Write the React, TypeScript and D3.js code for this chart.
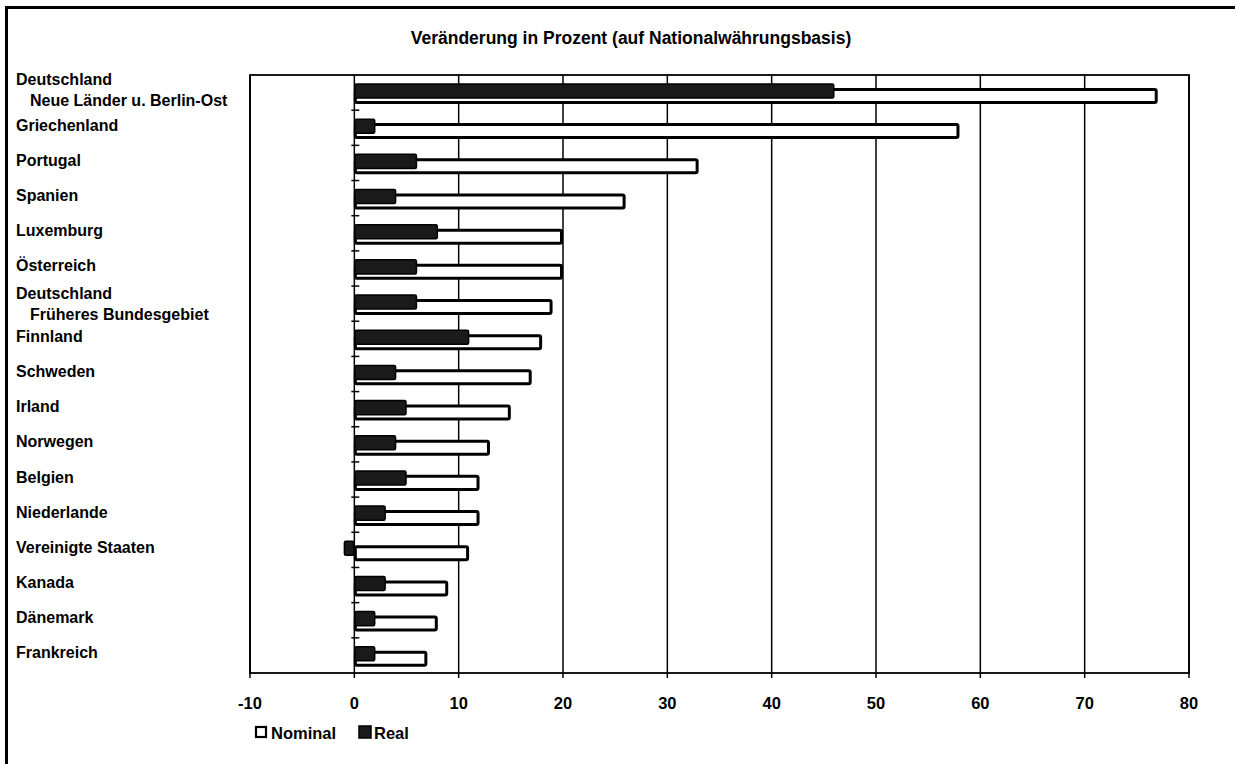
import React, { useEffect } from "react";
import * as d3 from "d3";

const categories: string[][] = [
  ["Deutschland", "Neue Länder u. Berlin-Ost"],
  ["Griechenland"],
  ["Portugal"],
  ["Spanien"],
  ["Luxemburg"],
  ["Österreich"],
  ["Deutschland", "Früheres Bundesgebiet"],
  ["Finnland"],
  ["Schweden"],
  ["Irland"],
  ["Norwegen"],
  ["Belgien"],
  ["Niederlande"],
  ["Vereinigte Staaten"],
  ["Kanada"],
  ["Dänemark"],
  ["Frankreich"],
];
const nominal: number[] = [77, 58, 33, 26, 20, 20, 19, 18, 17, 15, 13, 12, 12, 11, 9, 8, 7];
const real: number[] = [46, 2, 6, 4, 8, 6, 6, 11, 4, 5, 4, 5, 3, -1, 3, 2, 2];
const xTicks: number[] = [-10, 0, 10, 20, 30, 40, 50, 60, 70, 80];
const titleBold = "Veränderung in Prozent";
const titleRest = " (auf Nationalwährungsbasis)";
const legendLabels = ["Nominal", "Real"];

const W = 1237;
const H = 764;
const FONT = "'Liberation Sans', Arial, Helvetica, sans-serif";

export default function App() {
  useEffect(() => {
    document.body.style.margin = "0";
    document.body.style.overflow = "hidden";
    document.documentElement.style.overflow = "hidden";
  }, []);
  const left = 250, right = 1189, top = 75, bottom = 673;
  const x = d3.scaleLinear().domain([-10, 80]).range([left, right]);
  const idx = categories.map((_, i) => i);
  const y = d3.scaleBand<number>().domain(idx).range([top, bottom]).padding(0);
  const bw = y.bandwidth();
  const x0 = x(0);

  return (
    <div style={{ width: W, height: H, overflow: "hidden", background: "#fff" }}>
      <svg width={W} height={H} style={{ display: "block", fontFamily: FONT }}>
        <rect x={0} y={0} width={W} height={H} fill="#fff" />
        {/* outer frame (top and left edges; the rest runs off the page) */}
        <path d={`M6.5,${H}V7.5H${W - 2}`} fill="none" stroke="#000" strokeWidth={3} />

        {/* title */}
        <text x={631} y={44} textAnchor="middle" fontSize={17.5} fontWeight={700} fill="#000">
          <tspan>{titleBold}</tspan>
          <tspan>{titleRest}</tspan>
        </text>

        {/* gridlines */}
        {xTicks.map((t) => (
          <line key={"g" + t} x1={x(t)} x2={x(t)} y1={top} y2={bottom} stroke="#000" strokeWidth={1.5} />
        ))}
        {/* plot frame */}
        <rect x={left} y={top} width={right - left} height={bottom - top} fill="none" stroke="#000" strokeWidth={1.8} />
        {/* bottom axis ticks */}
        {xTicks.map((t) => (
          <line key={"t" + t} x1={x(t)} x2={x(t)} y1={bottom} y2={bottom + 5} stroke="#000" strokeWidth={1.5} />
        ))}
        {xTicks.map((t) => (
          <text key={"l" + t} x={x(t)} y={709} textAnchor="middle" fontSize={16.5} fontWeight={700} fill="#000">
            {t}
          </text>
        ))}

        {/* category axis ticks at zero */}
        {idx.slice(1).map((i) => (
          <line key={"ct" + i} x1={x0 - 3} x2={x0 + 5} y1={y(i)!} y2={y(i)!} stroke="#000" strokeWidth={1.5} />
        ))}

        {/* bars */}
        {idx.map((i) => {
          const b = y(i)!;
          const nx = Math.min(x(nominal[i]), x0);
          const nw = Math.abs(x(nominal[i]) - x0);
          const rx = Math.min(x(real[i]), x0);
          const rw = Math.abs(x(real[i]) - x0);
          return (
            <g key={"b" + i}>
              <rect x={nx + 1} y={b + bw * 0.41} width={Math.max(nw - 2.5, 0)} height={bw * 0.37} fill="#fff" stroke="#000" strokeWidth={3} rx={1.5} />
              <rect x={rx + 0.5} y={b + bw * 0.255} width={Math.max(rw - 1, 0)} height={bw * 0.4} fill="#1a1a1a" stroke="#000" strokeWidth={1.5} rx={1.5} />
            </g>
          );
        })}

        {/* category labels */}
        {categories.map((c, i) => {
          const cy = y(i)! + bw / 2;
          if (c.length === 2) {
            const y1 = i === 0 ? cy - 7.5 : cy - 4.5;
            return (
              <g key={"c" + i}>
                <text x={16} y={y1} fontSize={16} fontWeight={700} fill="#000">{c[0]}</text>
                <text x={30} y={y1 + 21} fontSize={16} fontWeight={700} fill="#000">{c[1]}</text>
              </g>
            );
          }
          return (
            <text key={"c" + i} x={16} y={cy + 3} fontSize={16} fontWeight={700} fill="#000">
              {c[0]}
            </text>
          );
        })}

        {/* legend */}
        <rect x={256} y={727} width={10} height={10} fill="#fff" stroke="#000" strokeWidth={2.2} />
        <text x={271} y={739} fontSize={16.5} fontWeight={700} fill="#000">{legendLabels[0]}</text>
        <rect x={359} y={726} width={12} height={12} fill="#1a1a1a" stroke="#000" strokeWidth={1.5} />
        <text x={374} y={739} fontSize={16.5} fontWeight={700} fill="#000">{legendLabels[1]}</text>
      </svg>
    </div>
  );
}
